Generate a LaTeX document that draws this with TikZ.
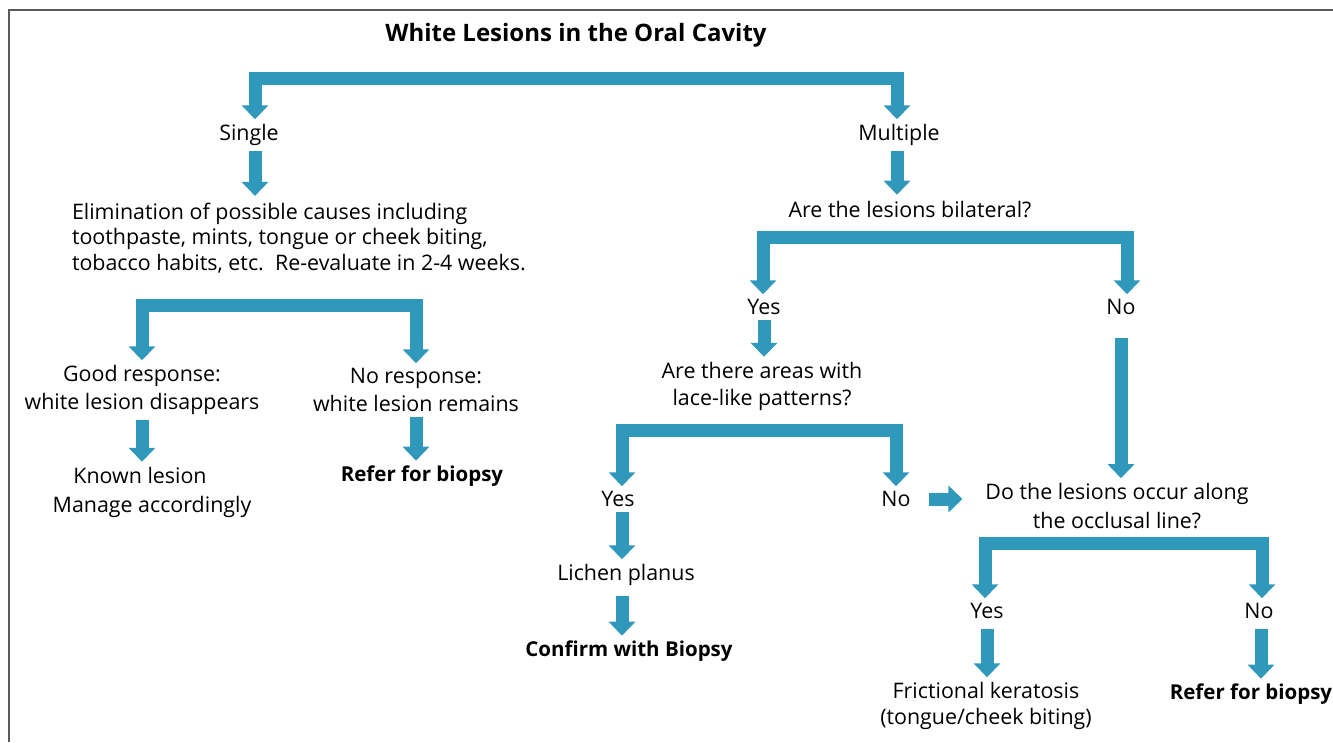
\documentclass[tikz,border=0pt]{standalone}
\usepackage{fontspec}
\setmainfont{Open Sans}
\usetikzlibrary{arrows.meta}
\definecolor{arrowblue}{RGB}{48,152,186}
\definecolor{framegray}{RGB}{90,90,90}
\tikzset{
  txt/.style={inner sep=0pt, outer sep=5pt, align=center, font=\fontsize{21.4}{27}\selectfont},
  boldtxt/.style={txt, font=\fontsize{20.5}{27}\selectfont\bfseries},
  bar/.style={draw=arrowblue, line width=13pt, line join=miter},
  tip/.style={-{Triangle[width=26pt,length=14pt]}},
  bothtips/.style={{Triangle[width=26pt,length=14pt]}-{Triangle[width=26pt,length=14pt]}},
}
\begin{document}
\begin{tikzpicture}[x=1pt,y=-1pt]
\useasboundingbox (0,0) rectangle (1333,742);
% frame
\draw[framegray, line width=2pt] (9,742) -- (9,10) -- (1333,10);

% nodes
\node[txt, font=\fontsize{24}{27}\selectfont\bfseries] (title) at (576,35) {White Lesions in the Oral Cavity};
\node[txt] (single) at (249,135) {Single};
\node[txt] (multiple) at (899,135) {Multiple};
\node[txt, align=left, anchor=west, font=\fontsize{21.4}{25.5}\selectfont] (elim) at (67,238) {Elimination of possible causes including\\toothpaste, mints, tongue or cheek biting,\\tobacco habits, etc.\ \ Re-evaluate in 2-4 weeks.};
\node[txt] (bilat) at (910,210) {Are the lesions bilateral?};
\node[txt] (yes1) at (764,307) {Yes};
\node[txt] (no1) at (1121,307) {No};
\node[txt, font=\fontsize{21.4}{28}\selectfont] (good) at (142,390) {Good response:\\white lesion disappears};
\node[txt, font=\fontsize{21.4}{28}\selectfont] (noresp) at (416,390) {No response:\\white lesion remains};
\node[txt] (known) at (140,475) {Known lesion};
\node[txt] (manage) at (152,507) {Manage accordingly};
\node[boldtxt] (refer1) at (422,476) {Refer for biopsy};
\node[txt] (lace) at (762,386) {Are there areas with\\lace-like patterns?};
\node[txt] (yes2) at (618,499) {Yes};
\node[txt] (no2) at (896,499) {No};
\node[txt, font=\fontsize{21.4}{29}\selectfont] (occl) at (1117,506) {Do the lesions occur along\\the occlusal line?};
\node[txt] (yes3) at (987,611) {Yes};
\node[txt] (no3) at (1259,611) {No};
\node[txt] (lichen) at (626,575) {Lichen planus};
\node[boldtxt] (confirm) at (629,651) {Confirm with Biopsy};
\node[txt, font=\fontsize{21.4}{26}\selectfont] (fric) at (986,706) {Frictional keratosis\\(tongue/cheek biting)};
\node[boldtxt] (refer2) at (1251,694) {Refer for biopsy};

% bar coordinates
\coordinate (b1) at (578,78);
\coordinate (b2) at (945,237);
\coordinate (b3) at (283,305);
\coordinate (b4) at (760,430);
\coordinate (b5) at (1123,543);

% brackets
\draw[bar, bothtips] ([xshift=6pt]single.north) |- (b1) -| ([xshift=-2pt]multiple.north);
\draw[bar, bothtips] ([xshift=-1pt]yes1.north) |- (b2) -| ([xshift=6pt]no1.north);
\draw[bar, bothtips] (good.north) |- (b3) -| (noresp.north);
\draw[bar, bothtips] ([xshift=4pt]yes2.north) |- (b4) -| (no2.north);
\draw[bar, bothtips] ([xshift=-2pt]yes3.north) |- (b5) -| ([xshift=3pt]no3.north);

% straight arrows
\draw[bar, tip, shorten >=2pt] ([xshift=6pt]single.south) -- ([xshift=6pt]single.south |- elim.north);
\draw[bar, tip, shorten >=2pt] ([xshift=-2pt]multiple.south) -- ([xshift=-2pt]multiple.south |- bilat.north);
\draw[bar, tip] (yes1.south) -- (yes1.south |- lace.north);
\draw[bar, tip] (good.south) -- (good.south |- known.north);
\draw[bar, tip] (noresp.south) -- (noresp.south |- refer1.north);
\draw[bar, tip, shorten <=18pt] (no1.south) -- (no1.south |- occl.north);
\draw[bar, tip, shorten <=13pt, shorten >=18pt] (no2.east) -- (no2.east -| occl.west);
\draw[bar, tip] ([xshift=4pt]yes2.south) -- ([xshift=4pt]yes2.south |- lichen.north);
\draw[bar, tip, shorten <=5pt] ([xshift=-4pt]lichen.south) -- ([xshift=-4pt]lichen.south |- confirm.north);
\draw[bar, tip, shorten <=5pt] (yes3.south) -- (yes3.south |- fric.north);
\draw[bar, tip, shorten <=5pt] ([xshift=2pt]no3.south) -- ([xshift=2pt]no3.south |- refer2.north);
\end{tikzpicture}
\end{document}
